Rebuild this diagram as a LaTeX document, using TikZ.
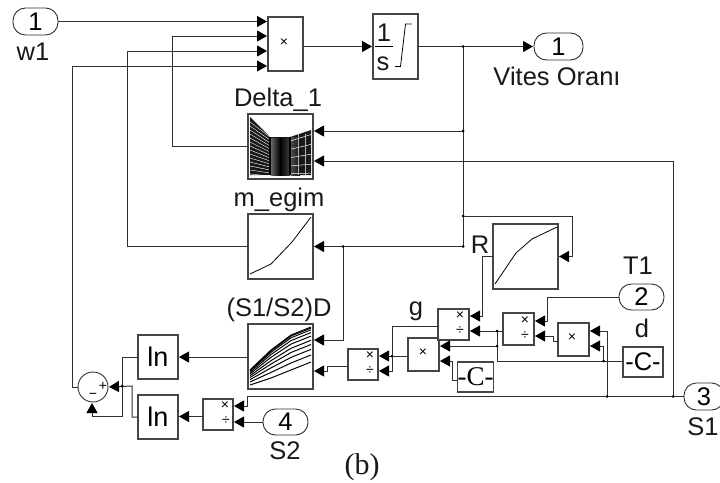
\documentclass[tikz,border=0pt]{standalone}
\usepackage{fontspec}
\setmainfont{Liberation Sans}
\newfontfamily\serifb{Liberation Serif}
\usetikzlibrary{arrows.meta}
\definecolor{lin}{HTML}{303030}
\definecolor{edge}{HTML}{454545}
\newcommand{\lbl}[4][]{\node[lab,#1] (#2) at #3 {#4};}
\newcommand{\blk}[6]{\node[blockb,minimum width={(#4-#2)*1pt},minimum height={(#5-#3)*1pt}] (#1) at ({(#2+#4)/2},{(#3+#5)/2}) {#6};}
\newcommand{\prt}[6]{\node[portb,minimum width={(#4-#2)*1pt},minimum height={(#5-#3)*1pt}] (#1) at ({(#2+#4)/2},{(#3+#5)/2}) {#6};}
\tikzset{
  lab/.style={anchor=base,inner sep=0pt,outer sep=0pt,font=\fontsize{25.5}{28}\selectfont,text=black!90},
  blockb/.style={draw=edge,line width=1.1pt,fill=white,inner sep=0pt,outer sep=0pt,font=\fontsize{25.5}{28}\selectfont},
  portb/.style={blockb,line width=0.9pt,draw=lin,rounded corners=12.5pt},
  conn/.style={draw=lin,line width=1pt,-{Triangle[length=10pt,width=11pt,color=black]},shorten >=1pt},
  wire/.style={draw=lin,line width=1pt},
  dotj/.style={circle,fill=black,inner sep=0pt,minimum size=3pt},
  mk/.style={inner sep=0pt,outer sep=0pt,font=\fontsize{14}{14}\selectfont},
  icon/.style={line width=0.8pt,black},
}
\begin{document}
\begin{tikzpicture}[x=1pt,y=-1pt]
\clip (0,0) rectangle (720,482);
\fill[white] (0,0) rectangle (720,482);
% ports
\prt{w1}{13}{8}{58}{35}{1}
\prt{outA}{534}{33}{583}{60}{1}
\prt{outB}{619}{284}{664}{310}{2}
\prt{outC}{684}{383}{724}{410}{3}
\prt{inD}{263}{409}{308}{435}{4}
% blocks
\blk{pA}{268}{17}{303}{71}{}
\blk{int}{373}{14}{418}{79}{}
\blk{dl}{248}{114}{313}{179}{}
\blk{me}{248}{214}{313}{279}{}
\blk{rb}{493}{224}{558}{289}{}
\blk{sd}{248}{324}{313}{389}{}
\blk{lnA}{138}{335}{178}{379}{\fontsize{27}{28}\selectfont ln}
\blk{lnB}{138}{395}{178}{439}{\fontsize{27}{28}\selectfont ln}
\blk{dvB}{203}{399}{233}{430}{}
\blk{dvA}{348}{349}{378}{380}{}
\blk{pB}{408}{338}{439}{371}{}
\blk{pC}{438}{309}{469}{340}{}
\blk{pD}{503}{313}{534}{345}{}
\blk{pE}{558}{323}{589}{356}{}
\blk{kA}{458}{362}{493}{392}{\fontsize{27}{28}\selectfont\serifb -C-}
\blk{kB}{623}{347}{663}{377}{-C-}
\node[draw=lin,line width=0.9pt,circle,fill=white,minimum size=30pt,inner sep=0pt,outer sep=0pt] (sum) at (93,387) {};
% marks
\node[mk] (xA) at (284,43) {×};
\node[mk] (xB) at (423,353) {×};
\node[mk] (xC) at (460,316) {×};
\node[mk] (dC) at (460,331) {÷};
\node[mk] (xD) at (525,321) {×};
\node[mk] (dD) at (525,336) {÷};
\node[mk] (xE) at (572,338) {×};
\node[mk] (xF) at (370,356) {×};
\node[mk] (dF) at (370,371) {÷};
\node[mk] (xG) at (225,406) {×};
\node[mk] (dG) at (226,421) {÷};
\node[mk] (plus) at (103,386) {+};
\node[mk] (minus) at (93,396) {−};
% integrator icon
\node[lab] (one) at (384,41) {1};
\node[lab] (ess) at (383,70) {s};
\draw[icon] (375,46) -- (393,46);
\draw[icon] (395,66.5) -- (400.5,66.5) -- (405.5,24) -- (411.5,24);
% m_egim and R icons
\draw[icon] (250,274) -- (271,264) -- (292,242) -- (311,217);
\draw[icon] (495,284) -- (516,253) -- (532,239) -- (557,227);
% family of curves
\foreach \t in {0,.03,.08,.16,.26,.38,.5,.64,.8,1}{
  \draw[icon,line width=1pt] ({250},{370+15*\t}) -- (271,{350+28*\t}) -- (291,{335+35*\t}) -- (311,{327+35*\t});
}
% 3-D surface icon
\fill[black!90] (250,117) -- (270,137) -- (270,175) -- (250,175) -- cycle;
\fill[black!90] (270,137) -- (290,137) -- (311,130) -- (311,175) -- (270,175) -- cycle;
\shade[left color=black!60,right color=black] (271,138) rectangle (280,175);
\shade[left color=black,right color=black!75] (280,138) rectangle (290,175);
\shade[left color=black!70,right color=black!95] (291,137) rectangle (300,175);
\foreach \y in {122,126,...,174}{
  \draw[white,line width=0.4pt] (250,\y) -- (270,{137+(\y-122)*0.75});
}
\foreach \t in {.1,.32,.54,.76,.96}{
  \draw[white,line width=0.5pt] (291,{137+38*\t}) -- (311,{130+45*\t});
}
\foreach \x in {298,305}{\draw[black!30,line width=0.35pt] (\x,134) -- (\x,175);}
\foreach \x in {270,290}{\draw[black,line width=1.1pt] (\x,137) -- (\x,175);}
% texts
\lbl{tw}{(33,60)}{w1}
\lbl{tdl}{(278,106)}{Delta\_1}
\lbl{tme}{(279,206)}{m\_egim}
\lbl{tv}{(557,85)}{Vites Oranı}
\lbl{tsd}{(279,316)}{(S1/S2)D}
\lbl{ts2}{(285,459)}{S2}
\lbl{tr}{(480,253)}{R}
\lbl{tg}{(416,315)}{g}
\lbl{tt}{(638,274)}{T1}
\lbl{td}{(642,337)}{d}
\lbl{ts1}{(703,435)}{S1}
\lbl[font=\fontsize{30}{32}\selectfont\serifb]{tb}{(362,474)}{(b)}
% junctions
\coordinate (jA) at (463,46.5);
\coordinate (jB) at (463,131);
\coordinate (jC) at (463,216);
\coordinate (jD) at (463,246.5);
\coordinate (jE) at (343,246.5);
\coordinate (jF) at (673,396.5);
\coordinate (jG) at (607,396.5);
\coordinate (jH) at (497,331);
\coordinate (jI) at (497,346);
\coordinate (jJ) at (603.5,361);
\coordinate (jK) at (392,356);
% connectors
\draw[conn] (w1.east) -- (pA.west |- w1.east);
\draw[conn] (dl.west) -| (172,36) -- (pA.west |- 172,36);
\draw[conn] (me.west) -| (127,51) -- (pA.west |- 127,51);
\draw[conn] (sum.west) -| (72,66) -- (pA.west |- 72,66);
\draw[conn] (pA.east |- int.west) -- (int.west);
\draw[conn] (int.east) -- (outA.west);
\draw[wire] (jA) -- (jD);
\draw[conn] (jB) -- (dl.east |- jB);
\draw[conn] (jC) -| (572,256.5) -- (rb.east);
\draw[conn] (jD) -- (me.east |- jD);
\draw[conn] (jE) |- (sd.east |- 343,340);
\draw[conn] (outC.west) -- (247,396.5) -- (247,406) -- (dvB.east |- 247,406);
\draw[conn] (jF) -- (673,161) -- (dl.east |- 673,161);
\draw[conn] (rb.west) -| (482,316) -- (pC.east |- 482,316);
\draw[conn] (pC.west |- 392,326) -- (392,326) -- (392,371) -- (dvA.east |- 392,371);
\draw[conn] (pB.west |- jK) -- (dvA.east |- jK);
\draw[conn] (dvA.west |- 327,366) -- (327,366) -- (327,371) -- (sd.east |- 327,371);
\draw[conn] (sd.west |- lnA.east) -- (lnA.east);
\draw[conn] (pD.west |- jH) -- (pC.east |- jH);
\draw[wire] (jH) -- (497,361) -- (kB.west |- 497,361);
\draw[conn] (jI) -- (pB.east |- jI);
\draw[conn] (kA.west |- 452,380) -- (452,380) -- (452,361) -- (pB.east |- 452,361);
\draw[conn] (pE.west |- 553,341) -- (553,341) -- (553,336) -- (pD.east |- 553,336);
\draw[conn] (outB.west) -| (547,321) -- (pD.east |- 547,321);
\draw[conn] (jG) -- (607,331) -- (pE.east |- 607,331);
\draw[conn] (jJ) -- (603.5,346) -- (pE.east |- 603.5,346);
\draw[conn] (inD.west) -- (dvB.east |- inD.west);
\draw[conn] (dvB.west |- 190,416.5) -- (lnB.east |- 190,416.5);
\draw[conn] (lnA.west) -- (122,357) -- (122,416) -- (92,416) -- (sum.south -| 92,0);
\draw[conn] (lnB.west) -- (132,417) -- (132,386) -- (sum.east |- 132,387);
% junction dots
\foreach \j in {jA,jB,jC,jD,jE,jF,jG,jH,jI,jJ,jK}{\node[dotj] at (\j) {};}
\node[dotj] at (122,386) {};
\end{tikzpicture}
\end{document}
